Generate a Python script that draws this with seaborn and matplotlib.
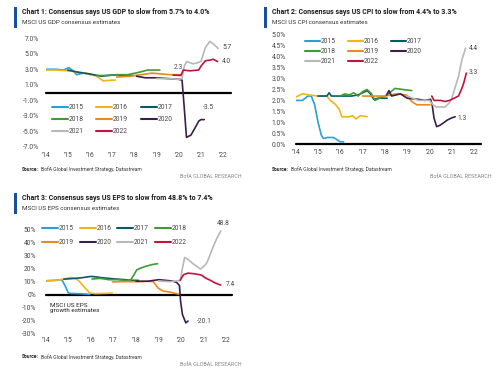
import pandas as pd
import seaborn as sns
import matplotlib.pyplot as plt
from matplotlib.lines import Line2D

W, H = 500, 371
years = ['2015', '2016', '2017', '2018', '2019', '2020', '2021', '2022']
colors = ['#2a9fd8', '#f2b41c', '#0b5963', '#3f9b35', '#e88b1a', '#3b1f4a', '#b8b8b8', '#c0143c']

# --- Chart 1: GDP consensus (time, value %) ---
gdp_2015 = [(2014.0, 3.0), (2014.5, 3.0), (2014.8, 2.9), (2015.05, 3.2), (2015.25, 2.8), (2015.4, 2.3), (2015.7, 2.5), (2015.9, 2.4), (2016.05, 2.3)]
gdp_2016 = [(2014.0, 2.9), (2014.5, 2.9), (2015.0, 2.8), (2015.3, 2.7), (2015.8, 2.5), (2016.3, 2.1), (2016.6, 1.5), (2017.0, 1.6), (2017.15, 1.6)]
gdp_2017 = [(2015.0, 2.9), (2015.5, 2.6), (2016.0, 2.4), (2016.5, 2.1), (2016.8, 2.2), (2017.2, 2.3), (2017.5, 2.2), (2017.95, 2.2)]
gdp_2018 = [(2016.3, 2.2), (2016.8, 2.2), (2017.3, 2.3), (2017.7, 2.3), (2018.2, 2.6), (2018.6, 2.9), (2019.15, 2.9)]
gdp_2019 = [(2017.2, 2.0), (2017.8, 2.1), (2018.3, 2.3), (2018.8, 2.5), (2019.2, 2.4), (2019.6, 2.3), (2020.1, 2.3)]
gdp_2020 = [(2018.1, 2.1), (2018.5, 1.9), (2019.0, 1.9), (2019.5, 1.8), (2020.0, 1.7), (2020.15, 1.6), (2020.25, -2.0),
            (2020.35, -5.8), (2020.55, -5.5), (2020.75, -4.5), (2020.9, -3.7), (2021.0, -3.5), (2021.15, -3.5)]
gdp_2021 = [(2019.0, 1.8), (2019.5, 1.8), (2020.0, 1.7), (2020.15, 1.8), (2020.25, 3.4), (2020.36, 4.0), (2020.65, 3.7),
            (2020.8, 3.8), (2021.0, 4.0), (2021.2, 5.8), (2021.4, 6.6), (2021.55, 6.3), (2021.77, 5.7)]
gdp_2022 = [(2019.75, 2.25), (2020.1, 2.2), (2020.2, 2.9), (2020.5, 2.8), (2020.9, 2.9), (2021.0, 3.4), (2021.2, 4.1),
            (2021.45, 4.2), (2021.55, 4.3), (2021.75, 4.0)]

# --- Chart 2: CPI consensus ---
cpi_2015 = [(2014.0, 2.0), (2014.3, 2.0), (2014.55, 2.2), (2014.7, 2.2), (2014.85, 1.8), (2015.0, 1.0), (2015.15, 0.4),
            (2015.25, 0.25), (2015.4, 0.3), (2015.7, 0.3), (2015.85, 0.2), (2016.0, 0.1), (2016.15, 0.1)]
cpi_2016 = [(2014.0, 2.15), (2014.3, 2.3), (2014.6, 2.25), (2015.0, 2.2), (2015.4, 2.2), (2015.55, 2.0), (2015.75, 1.85),
            (2015.95, 1.6), (2016.07, 1.25), (2016.4, 1.25), (2016.55, 1.3), (2016.7, 1.15), (2016.9, 1.3), (2017.2, 1.25)]
cpi_2017 = [(2015.0, 2.2), (2015.4, 2.2), (2015.5, 2.35), (2015.6, 2.2), (2016.5, 2.2), (2016.8, 2.25), (2017.0, 2.35),
            (2017.2, 2.45), (2017.35, 2.3), (2017.5, 2.05), (2017.7, 2.1), (2018.1, 2.1)]
cpi_2018 = [(2016.0, 2.2), (2016.2, 2.3), (2016.4, 2.25), (2016.6, 2.35), (2016.8, 2.2), (2017.0, 2.4), (2017.2, 2.5),
            (2017.4, 2.3), (2017.55, 2.0), (2017.75, 2.1), (2018.0, 2.2), (2018.15, 2.3), (2018.45, 2.55), (2018.8, 2.5), (2019.2, 2.45)]
cpi_2019 = [(2017.0, 2.2), (2017.5, 2.2), (2018.0, 2.2), (2018.5, 2.3), (2018.97, 2.25), (2019.2, 1.95), (2019.43, 1.8), (2020.02, 1.8)]
cpi_2020 = [(2018.08, 2.25), (2018.18, 2.45), (2018.3, 2.2), (2018.7, 2.3), (2019.0, 2.1), (2019.5, 2.05), (2019.8, 2.0),
            (2020.05, 2.05), (2020.12, 1.8), (2020.2, 1.2), (2020.32, 0.8), (2020.45, 0.85), (2020.6, 0.95), (2020.8, 1.1),
            (2021.0, 1.2), (2021.15, 1.25)]
cpi_2021 = [(2019.0, 2.2), (2019.5, 2.0), (2020.0, 2.0), (2020.15, 1.8), (2020.3, 1.7), (2020.7, 1.7), (2020.9, 1.9),
            (2021.0, 2.1), (2021.15, 2.6), (2021.3, 3.1), (2021.45, 3.85), (2021.62, 4.4)]
cpi_2022 = [(2020.1, 2.2), (2020.2, 2.0), (2020.5, 2.0), (2020.7, 1.95), (2020.9, 2.0), (2021.1, 2.1), (2021.3, 2.2),
            (2021.45, 2.55), (2021.55, 2.85), (2021.65, 3.25)]

# --- Chart 3: EPS consensus ---
eps_2015 = [(2014.0, 10.7), (2014.4, 11.0), (2014.65, 11.5), (2014.75, 10.5), (2014.88, 6.0), (2015.0, 1.5), (2015.1, 1.0),
            (2015.5, 0.8), (2015.8, 0.5), (2015.95, 0.3)]
eps_2016 = [(2014.0, 10.5), (2014.5, 11.0), (2014.8, 12.0), (2015.1, 13.2), (2015.3, 12.5), (2015.45, 11.0), (2015.7, 6.0),
            (2015.95, 1.3), (2016.2, 0.8), (2016.6, 1.0), (2016.95, 1.2)]
eps_2017 = [(2014.8, 11.9), (2015.3, 12.5), (2015.6, 13.0), (2016.0, 14.0), (2016.2, 13.7), (2016.5, 13.0), (2016.8, 12.5),
            (2017.1, 12.0), (2017.5, 11.5), (2017.8, 11.0), (2018.1, 11.0)]
eps_2018 = [(2016.05, 12.0), (2016.4, 12.5), (2016.8, 11.5), (2017.2, 11.5), (2017.5, 11.0), (2017.75, 11.0), (2017.9, 15.0),
            (2018.03, 19.0), (2018.15, 20.0), (2018.4, 21.6), (2018.7, 23.0), (2018.95, 23.7)]
eps_2019 = [(2016.95, 9.8), (2017.4, 10.0), (2018.0, 10.0), (2018.5, 10.3), (2018.76, 10.0), (2018.98, 5.0), (2019.2, 2.8),
            (2019.5, 2.0), (2019.87, 0.5)]
eps_2020 = [(2018.0, 10.3), (2018.5, 10.3), (2018.8, 11.0), (2019.0, 11.5), (2019.3, 11.0), (2019.6, 10.5), (2019.8, 9.4),
            (2019.92, 7.0), (2019.97, -5.0), (2020.05, -15.0), (2020.2, -21.5), (2020.3, -20.1)]
eps_2021 = [(2019.0, 10.5), (2019.5, 10.0), (2019.95, 10.9), (2020.05, 20.0), (2020.15, 28.5), (2020.3, 27.0), (2020.5, 24.0),
            (2020.7, 21.5), (2020.85, 19.6), (2021.05, 22.5), (2021.15, 25.0), (2021.3, 31.8), (2021.45, 38.2), (2021.6, 44.0),
            (2021.75, 48.8)]
eps_2022 = [(2019.95, 11.0), (2020.1, 15.3), (2020.3, 16.5), (2020.6, 16.0), (2020.9, 15.0), (2021.05, 13.0), (2021.3, 10.9),
            (2021.5, 9.0), (2021.65, 8.0), (2021.75, 7.4)]

x_ticks = [2014, 2015, 2016, 2017, 2018, 2019, 2020, 2021, 2022]
x_labels = ["'14", "'15", "'16", "'17", "'18", "'19", "'20", "'21", "'22"]

sns.set_theme(style="white")
plt.rcParams['font.family'] = ['Roboto', 'DejaVu Sans']

fig = plt.figure(figsize=(5, 3.71), dpi=100)


def px_box(x0, y0, x1, y1):
    return [x0 / W, 1 - y1 / H, (x1 - x0) / W, (y1 - y0) / H]


def ftext(x, y, s, **kw):
    return fig.text(x / W, 1 - y / H, s, **kw)


def to_df(series):
    rows = []
    for yr, pts in zip(years, series):
        for t, v in pts:
            rows.append({'t': t, 'v': v, 'year': yr})
    return pd.DataFrame(rows)


def panel(box, series, xlim, ylim, yticks, ylabels, ypad, xpad):
    ax = fig.add_axes(px_box(*box))
    df = to_df(series)
    sns.lineplot(data=df, x='t', y='v', hue='year', palette=dict(zip(years, colors)),
                 estimator=None, sort=False, linewidth=1.2, legend=False, ax=ax)
    ax.axhline(0, color='black', lw=1.6, zorder=1, clip_on=False)
    ax.set_xlim(*xlim)
    ax.set_ylim(*ylim)
    ax.set_xticks(x_ticks)
    ax.set_xticklabels(x_labels)
    ax.set_yticks(yticks)
    ax.set_yticklabels(ylabels)
    ax.tick_params(axis='x', length=0, pad=xpad, labelsize=4.8, labelcolor='#444444')
    ax.tick_params(axis='y', length=0, pad=ypad, labelsize=4.8, labelcolor='#444444')
    ax.set_xlabel('')
    ax.set_ylabel('')
    sns.despine(ax=ax, left=True, bottom=True)
    ax.patch.set_alpha(0)
    return ax


def add_legend(ax, x, y, ncol, hlen, cspace, lspace):
    handles = [Line2D([], [], color=c, lw=1.5) for c in colors]
    if ncol == 3:
        order = [0, 3, 6, 1, 4, 7, 2, 5]
    else:
        order = [0, 4, 1, 5, 2, 6, 3, 7]
    ax.legend([handles[i] for i in order], [years[i] for i in order], ncol=ncol, frameon=False,
              loc='upper left', bbox_to_anchor=(x / W, 1 - y / H), bbox_transform=fig.transFigure,
              fontsize=4.8, handlelength=hlen, handletextpad=0.1, columnspacing=cspace,
              labelspacing=lspace, borderpad=0, borderaxespad=0, labelcolor='#444444')


def header(x, y, title, subtitle):
    bar = plt.Rectangle(((x - 8) / W, 1 - (y + 16) / H), 3 / W, 21 / H, transform=fig.transFigure,
                        color='#1a4fa0', lw=0)
    fig.patches.append(bar)
    ftext(x, y, title, fontsize=5.0, fontweight='bold', color='#1a1a1a', va='center')
    ftext(x, y + 10, subtitle, fontsize=4.5, color='#333333', va='center')


def footer(x, y, right):
    src = ftext(x, y, 'Source:', fontsize=3.6, fontweight='bold', color='#222222', va='center')
    fig.add_artist(plt.Annotation('BofA Global Investment Strategy, Datastream', xy=(1, 0.5), xycoords=src,
                                  xytext=(1.5, 0), textcoords='offset points', fontsize=3.6,
                                  color='#333333', va='center'))
    ftext(right, y + 8, 'BofA GLOBAL RESEARCH', fontsize=3.9, color='#888888', va='center', ha='right')


# Chart 1
ax1 = panel((45.5, 38.3, 230.9, 146.7),
            [gdp_2015, gdp_2016, gdp_2017, gdp_2018, gdp_2019, gdp_2020, gdp_2021, gdp_2022],
            (2014, 2022.35), (-7, 7), [7, 5, 3, 1, -1, -3, -5, -7],
            ['7.0%', '5.0%', '3.0%', '1.0%', '-1.0%', '-3.0%', '-5.0%', '-7.0%'], 4.7, 3.6)
add_legend(ax1, 52, 104, 3, 2.4, 1.9, 0.75)
ax1.text(2020.0, 3.2, '2.3', fontsize=4.8, color='#444444', ha='center', va='center')
ax1.text(2021.95, 5.8, '5.7', fontsize=4.8, color='#444444', va='center')
ax1.text(2021.95, 4.0, '4.0', fontsize=4.8, color='#444444', va='center')
ax1.text(2021.1, -1.9, '-3.5', fontsize=4.8, color='#444444', va='center')
header(22, 12, 'Chart 1: Consensus says US GDP to slow from 5.7% to 4.0%', 'MSCI US GDP consensus estimates')
footer(22, 169, 242)

# Chart 2
ax2 = panel((295.7, 30.6, 480.8, 148.4),
            [cpi_2015, cpi_2016, cpi_2017, cpi_2018, cpi_2019, cpi_2020, cpi_2021, cpi_2022],
            (2014, 2022.3), (-0.2, 5.2), [0, 0.5, 1, 1.5, 2, 2.5, 3, 3.5, 4, 4.5, 5],
            ['0.0%', '0.5%', '1.0%', '1.5%', '2.0%', '2.5%', '3.0%', '3.5%', '4.0%', '4.5%', '5.0%'], 7, 0.5)
add_legend(ax2, 305, 38, 3, 2.2, 1.9, 0.45)
ax2.text(2021.75, 4.4, '4.4', fontsize=4.8, color='#444444', va='center')
ax2.text(2021.75, 3.3, '3.3', fontsize=4.8, color='#444444', va='center')
ax2.text(2021.25, 1.15, '1.3', fontsize=4.8, color='#444444', va='center')
header(272, 12, 'Chart 2: Consensus says US CPI to slow from 4.4% to 3.3%', 'MSCI US CPI consensus estimates')
footer(272, 169, 492)

# Chart 3
ax3 = panel((45.7, 229.3, 232.1, 334),
            [eps_2015, eps_2016, eps_2017, eps_2018, eps_2019, eps_2020, eps_2021, eps_2022],
            (2014, 2022.25), (-30, 50), [50, 40, 30, 20, 10, 0, -10, -20, -30],
            ['50%', '40%', '30%', '20%', '10%', '0%', '-10%', '-20%', '-30%'], 7, 2)
add_legend(ax3, 42, 225, 4, 2.4, 0.9, 1.1)
ax3.text(2021.85, 54.5, '48.8', fontsize=4.8, color='#444444', ha='center', va='center')
ax3.text(2021.95, 7.6, '7.4', fontsize=4.8, color='#444444', va='center')
ax3.text(2020.7, -20.4, '-20.1', fontsize=4.8, color='#444444', va='center')
ax3.text(2014.2, -6.5, 'MSCI US EPS\ngrowth estimates', fontsize=4.6, color='#222222', va='top', linespacing=1.0)
header(22, 198, 'Chart 3: Consensus says US EPS to slow from 48.8% to 7.4%', 'MSCI US EPS consensus estimates')
footer(22, 357, 242)

fig.savefig('out.png', dpi=100)
